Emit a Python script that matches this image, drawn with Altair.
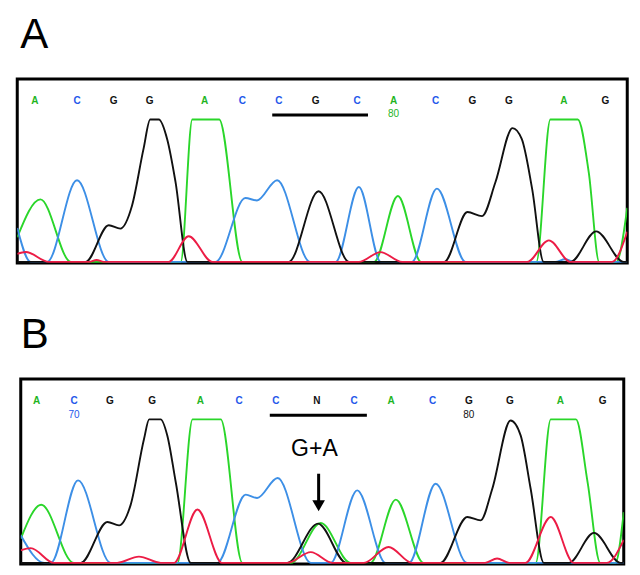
import altair as alt
import pandas as pd

# ---------------- Panel A ----------------
A_letters = ["A", "C", "G", "G", "A", "C", "C", "G", "C", "A", "C", "G", "G", "A", "G"]
A_letter_x = [29, 98, 158, 217, 307, 369, 429, 489, 557, 617, 686, 746, 806, 896, 964]
A_numbers = ["80"]
A_number_x = [617]
A_number_base = ["A"]
A_bar = [418, 575]

A_green = [(0, 14), (38, 34.6), (88, 0.6), (268, 0.6), (287, 78), (331, 78), (369, 0.6),
           (585, 0.6), (624, 36.4), (662, 0.6), (851, 0.6), (874, 78), (919, 78), (937, 49),
           (954, 0.6), (982, 0.6), (1000, 30)]
A_blue = [(0, 19), (22, 0.6), (49, 0.6), (98, 45), (150, 0.6), (325, 0.6), (374, 35.3),
          (393, 34), (426, 45), (480, 0.6), (522, 0.6), (560, 41.3), (596, 0.6), (647, 0.6),
          (688, 40.4), (735, 0.6), (882, 0.6), (898, 2), (914, 0.6), (1000, 0.6)]
A_black = [(0, 0.6), (112, 0.6), (150, 20.5), (169, 18.7), (188, 31), (207, 62), (218, 78),
           (232, 78), (246, 67), (259.5, 44), (279, 0.6), (445, 0.6), (494, 39), (544, 0.6),
           (700, 0.6), (738, 27.7), (762, 25.5), (784, 44), (812, 73.3), (827, 67.4),
           (844, 40.4), (863, 0.6), (907, 0.6), (949, 17.2), (994, 0.6), (1000, 0.6)]
A_red = [(0, 5), (14, 6), (52, 0.6), (118, 0.6), (130, 1.6), (142, 0.6), (248, 0.6),
         (281, 14.5), (320, 0.6), (560, 0.6), (595.5, 5.9), (631, 0.6), (836, 0.6),
         (871.5, 12.3), (907, 0.6), (975, 0.6), (1000, 17)]

# ---------------- Panel B ----------------
B_letters = ["A", "C", "G", "G", "A", "C", "C", "N", "C", "A", "C", "G", "G", "A", "G"]
B_letter_x = [26.5, 88.4, 148, 218, 298, 362, 423, 491, 553, 614, 683, 743, 811, 895, 965]
B_numbers = ["70", "80"]
B_number_x = [88.4, 743]
B_number_base = ["C", "G"]
B_bar = [413, 574]

B_green = [(0, 13.7), (34, 32), (88, 0.6), (260, 0.6), (285, 78.2), (331.6, 78.2),
           (367.5, 0.6), (448, 0.6), (497.5, 22.2), (547, 0.6), (580, 0.6), (622, 34.8),
           (668, 0.6), (854, 0.6), (879, 78.2), (920.7, 78.2), (940, 44.3), (961, 0.6),
           (986, 0.6), (1000, 28)]
B_blue = [(0, 15.5), (39, 0.6), (50, 0.6), (95, 45.2), (149, 0.6), (326, 0.6), (373, 37.5),
          (392, 35.7), (426, 46.5), (481, 0.6), (514, 0.6), (558, 39.8), (605, 0.6),
          (644, 0.6), (688, 43.4), (740, 0.6), (1000, 0.6)]
B_black = [(0, 0.6), (99.5, 0.6), (143.7, 22.7), (163, 20.9), (182, 31.7), (204.5, 67.7),
           (213, 78.2), (232, 78.2), (243, 69.5), (257, 44.3), (282, 0.6), (442, 0.6),
           (493, 21.8), (540, 0.6), (696, 0.6), (740.5, 25.4), (762.6, 23.6), (782, 40.7),
           (812.4, 77.6), (829, 69.5), (845.6, 40.7), (867.6, 0.6), (909, 0.6),
           (950.6, 16.8), (994.8, 0.6), (1000, 0.6)]
B_red = [(0, 7.4), (16.6, 8.6), (55, 0.6), (160, 0.6), (196, 4), (232, 0.6), (254, 0.6),
         (293, 29.5), (334, 0.6), (442, 0.6), (481, 6.4), (517, 0.6), (569, 0.6),
         (610, 9.2), (649, 0.6), (770, 0.6), (790, 3), (810, 0.6), (837, 0.6), (879, 25.4),
         (917, 0.6), (972, 0.6), (1000, 13)]

B_note = "G+A"
B_note_x = 487
B_arrow_x = 494

# ---------------- styles ----------------
TRACE_COL = {"A": "#2ad62a", "C": "#3d8fe6", "G": "#111111", "T": "#ec1c45"}
LETTER_COL = {"A": "#1fb51f", "C": "#2457ea", "G": "#111111", "N": "#111111"}
FONT = "Liberation Sans"

X = alt.X("x:Q", scale=alt.Scale(domain=[0, 1000], nice=False, zero=False), axis=None)
Y = alt.Y("y:Q", scale=alt.Scale(domain=[0, 100], nice=False, zero=False), axis=None)


def trace_df(traces):
    rows = []
    for base, pts in traces.items():
        for i, (x, y) in enumerate(pts):
            rows.append({"base": base, "x": x, "y": y, "i": i, "col": TRACE_COL[base]})
    return pd.DataFrame(rows)


def panel(title, traces, letters, letter_x, numbers, number_x, number_base, bar,
          width, height, dx, extra=None):
    tdf = trace_df(traces)
    lines = alt.Chart(tdf).mark_line(interpolate="monotone", strokeWidth=1.9, clip=True).encode(
        x=X, y=Y, color=alt.Color("col:N", scale=None), detail="base:N", order="i:Q")
    ldf = pd.DataFrame({"t": letters, "x": letter_x, "y": [88.3] * len(letters),
                        "col": [LETTER_COL[c] for c in letters]})
    let = alt.Chart(ldf).mark_text(font=FONT, fontSize=10, fontWeight="bold",
                                   baseline="middle").encode(
        x=X, y=Y, text="t:N", color=alt.Color("col:N", scale=None))
    ndf = pd.DataFrame({"t": numbers, "x": number_x, "y": [80.8] * len(numbers),
                        "col": [LETTER_COL[c] for c in number_base]})
    num = alt.Chart(ndf).mark_text(font=FONT, fontSize=10, baseline="middle").encode(
        x=X, y=Y, text="t:N", color=alt.Color("col:N", scale=None))
    bdf = pd.DataFrame({"x": [bar[0]], "x2": [bar[1]], "y": [80.4]})
    rule = alt.Chart(bdf).mark_rule(color="black", strokeWidth=3).encode(
        x=X, x2="x2:Q", y=Y)
    layers = [lines, rule, let, num]
    if extra:
        layers += extra
    return alt.layer(*layers).properties(
        width=width, height=height,
        title=alt.TitleParams(title, anchor="start", fontSize=42, font=FONT,
                              fontWeight="normal", color="black", offset=22, dx=dx))


A = panel("A", {"A": A_green, "C": A_blue, "G": A_black, "T": A_red},
          A_letters, A_letter_x, A_numbers, A_number_x, A_number_base, A_bar,
          610, 184, 3)

note_df = pd.DataFrame({"t": [B_note], "x": [B_note_x], "y": [62.3]})
note = alt.Chart(note_df).mark_text(font=FONT, fontSize=23, baseline="middle").encode(
    x=X, y=Y, text="t:N", color=alt.value("black"))
arrow_df = pd.DataFrame({"x": [B_arrow_x], "y": [48.8], "y2": [33]})
shaft = alt.Chart(arrow_df).mark_rule(color="black", strokeWidth=3).encode(
    x=X, y=Y, y2="y2:Q")
head_df = pd.DataFrame({"x": [B_arrow_x], "y": [31.5]})
head = alt.Chart(head_df).mark_point(shape="triangle-down", filled=True, size=160,
                                     color="black", opacity=1).encode(x=X, y=Y)

B = panel("B", {"A": B_green, "C": B_blue, "G": B_black, "T": B_red},
          B_letters, B_letter_x, B_numbers, B_number_x, B_number_base, B_bar,
          603, 185, 0, extra=[note, shaft, head])

chart = alt.vconcat(A, B, spacing=47, center=True).properties(
    padding={"left": 7, "top": 4, "right": 0, "bottom": 0}
).configure_view(stroke="black", strokeWidth=3)

chart.save("out.html", embed_options={"renderer": "svg", "actions": False})
